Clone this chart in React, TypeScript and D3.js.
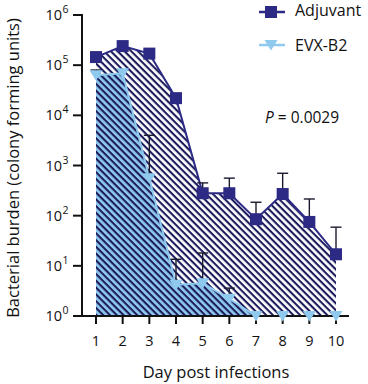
import React from "react";
import * as d3 from "d3";

const days = [1, 2, 3, 4, 5, 6, 7, 8, 9, 10];
const adjuvantMean = [145000, 240000, 170000, 22000, 280, 280, 85, 270, 75, 17];
const adjuvantUpper = [null, null, null, null, 450, 560, 185, 700, 215, 59];
const evxMean = [63000, 69000, 560, 4.2, 4.5, 2.2, 1, 1, 1, 1];
const evxUpper = [80000, 80000, 4000, 13.5, 18, 3.6, null, null, null, null];
const yTickExps = [0, 1, 2, 3, 4, 5, 6];

const NAVY = "#2C2A84";
const STRIPE = "#1C1B5C";
const LIGHT = "#8FCAEE";
const FONT = "'Open Sans', sans-serif";
const HATCH = 4.8;

export default function App() {
  const x = d3.scaleLinear().domain([1, 10]).range([96, 336]);
  const y = d3.scaleLog().domain([1, 1e6]).range([316, 15]);

  const area = d3
    .area<number>()
    .x((_, i) => x(days[i]))
    .y0(y(1))
    .y1((d) => y(d));
  const line = d3
    .line<number>()
    .x((_, i) => x(days[i]))
    .y((d) => y(d));

  const square = (cx: number, cy: number, s: number, key?: string) => (
    <rect key={key} x={cx - s / 2} y={cy - s / 2} width={s} height={s} fill={NAVY} />
  );
  const tri = (cx: number, cy: number, key?: string) => (
    <path key={key} d={`M${cx - 6.5},${cy - 5}L${cx + 6.5},${cy - 5}L${cx},${cy + 5.5}Z`} fill={LIGHT} />
  );

  const errBar = (i: number, mean: number[], upper: (number | null)[], key: string) => {
    const u = upper[i];
    if (u == null) return null;
    const cx = x(days[i]);
    return (
      <g key={key} stroke="#1a1a2e" strokeWidth={1.4}>
        <line x1={cx} x2={cx} y1={y(mean[i])} y2={y(u)} />
        <line x1={cx - 5.5} x2={cx + 5.5} y1={y(u)} y2={y(u)} />
      </g>
    );
  };

  return (
    <svg
      width={368}
      height={384}
      style={{ position: "absolute", left: 0, top: 0, background: "#fff" }}
      fontFamily={FONT}
    >
      <defs>
        <pattern id="hatchWhite" patternUnits="userSpaceOnUse" width={HATCH} height={HATCH} patternTransform="rotate(45)">
          <rect width={HATCH} height={HATCH} fill="#fff" />
          <rect width={HATCH} height={2.1} fill={STRIPE} />
        </pattern>
        <pattern id="hatchBlue" patternUnits="userSpaceOnUse" width={HATCH} height={HATCH} patternTransform="rotate(45)">
          <rect width={HATCH} height={HATCH} fill={LIGHT} />
          <rect width={HATCH} height={2.1} fill={STRIPE} />
        </pattern>
      </defs>

      {/* filled areas */}
      <path d={area(adjuvantMean) || ""} fill="url(#hatchWhite)" />
      <path d={area(evxMean) || ""} fill="url(#hatchBlue)" />
      <path d={line(adjuvantMean) || ""} fill="none" stroke={NAVY} strokeWidth={2} />
      <path d={line(evxMean) || ""} fill="none" stroke={LIGHT} strokeWidth={2} />

      {/* error bars */}
      {days.map((_, i) => errBar(i, adjuvantMean, adjuvantUpper, `ea${i}`))}
      {days.map((_, i) => errBar(i, evxMean, evxUpper, `ee${i}`))}

      {/* y axis */}
      <line x1={82} x2={82} y1={14} y2={317} stroke="#111" strokeWidth={2} />
      {yTickExps.map((e) => (
        <g key={e}>
          <line x1={73} x2={82} y1={y(10 ** e)} y2={y(10 ** e)} stroke="#111" strokeWidth={2} />
          <text x={62} y={y(10 ** e) + 5} fontSize={14.5} textAnchor="end" fill="#111">
            10
          </text>
          <text x={62.5} y={y(10 ** e) - 2} fontSize={10.5} fill="#111">
            {e}
          </text>
        </g>
      ))}

      {/* x axis */}
      <line x1={81} x2={349} y1={316} y2={316} stroke="#111" strokeWidth={2} />
      {days.map((d) => (
        <g key={d}>
          <line x1={x(d)} x2={x(d)} y1={316} y2={324} stroke="#111" strokeWidth={2} />
          <text x={x(d)} y={346} fontSize={14.5} textAnchor="middle" fill="#111">
            {d}
          </text>
        </g>
      ))}

      {/* markers */}
      {days.map((d, i) => square(x(d), y(adjuvantMean[i]), 12, `sq${i}`))}
      {days.map((d, i) => tri(x(d), y(evxMean[i]), `tr${i}`))}

      <text x={216} y={378} fontSize={16.5} textAnchor="middle" fill="#111">
        Day post infections
      </text>
      <text
        transform="translate(19,168) rotate(-90)"
        fontSize={16.5}
        textAnchor="middle"
        fill="#111"
      >
        Bacterial burden (colony forming units)
      </text>

      {/* legend */}
      <line x1={259} x2={285} y1={12} y2={12} stroke={NAVY} strokeWidth={2.5} />
      {square(271, 12, 12)}
      <text x={295} y={16} fontSize={16} fill="#111">
        Adjuvant
      </text>
      <line x1={259} x2={285} y1={45} y2={45} stroke={LIGHT} strokeWidth={2.5} />
      {tri(271, 45)}
      <text x={295} y={51} fontSize={16} fill="#111">
        EVX-B2
      </text>

      <text x={265} y={123} fontSize={15.5} fill="#111">
        <tspan fontStyle="italic">P</tspan> = 0.0029
      </text>
    </svg>
  );
}
